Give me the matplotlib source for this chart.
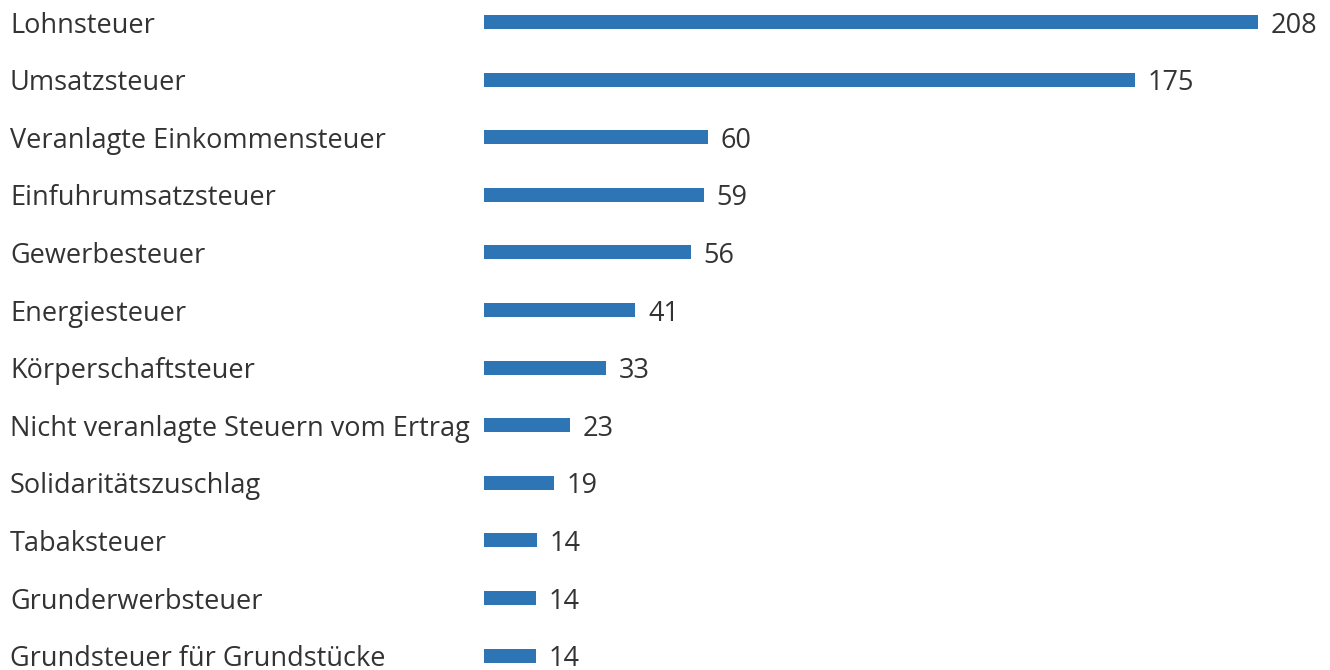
import matplotlib.pyplot as plt
import matplotlib.transforms as mtransforms

# Steuereinnahmen, Werte aus dem Bild gelesen
categories = [
    "Lohnsteuer",
    "Umsatzsteuer",
    "Veranlagte Einkommensteuer",
    "Einfuhrumsatzsteuer",
    "Gewerbesteuer",
    "Energiesteuer",
    "Körperschaftsteuer",
    "Nicht veranlagte Steuern vom Ertrag",
    "Solidaritätszuschlag",
    "Tabaksteuer",
    "Grunderwerbsteuer",
    "Grundsteuer für Grundstücke",
]
values = [208.1, 175.0, 60.2, 59.2, 55.6, 40.7, 32.8, 23.1, 18.9, 14.3, 14.1, 13.9]

BAR_COLOR = "#2e75b6"
TEXT_COLOR = "#333333"
FONT = ["Open Sans", "DejaVu Sans"]

fig = plt.figure(figsize=(13.3, 6.7), dpi=100)
ax = fig.add_axes([484 / 1330, 0, (1258 - 484) / 1330, 1])

pos = list(range(len(categories)))
ax.barh(pos, values, height=0.245, color=BAR_COLOR)
ax.set_xlim(0, 208.1)
ax.set_ylim(11.25, -0.382)
ax.axis("off")

label_tr = mtransforms.blended_transform_factory(fig.transFigure, ax.transData)
for i, (cat, v) in enumerate(zip(categories, values)):
    ax.text(10 / 1330, i, cat, transform=label_tr, ha="left", va="center_baseline",
            fontsize=19.5, color=TEXT_COLOR, family=FONT)
    ax.annotate(f"{v:.0f}", xy=(v, i), xytext=(9, 0), textcoords="offset points",
                ha="left", va="center_baseline", fontsize=19.5, color=TEXT_COLOR,
                family=FONT, annotation_clip=False)

fig.savefig("out.png", dpi=100)
